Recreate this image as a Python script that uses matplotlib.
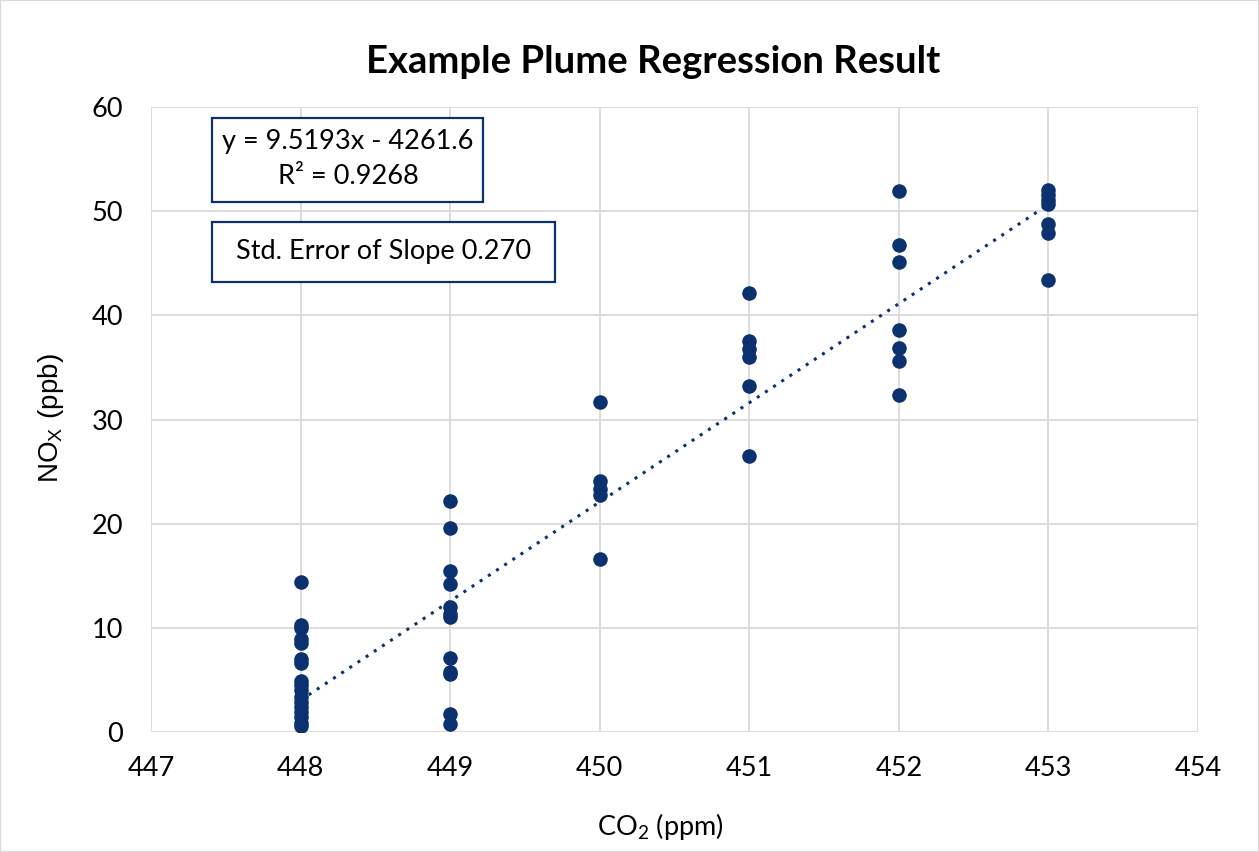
import matplotlib
matplotlib.use("Agg")
import matplotlib.pyplot as plt
import numpy as np

plt.rcParams['font.family'] = ['Lato', 'DejaVu Sans']
plt.rcParams['mathtext.fontset'] = 'custom'
plt.rcParams['mathtext.rm'] = 'Lato'
plt.rcParams['mathtext.sf'] = 'Liberation Sans'

# Data
co2_448 = [14.4, 10.3, 10.0, 8.9, 8.5, 7.0, 6.6, 4.9, 4.5, 4.0, 3.4, 2.9, 2.4, 1.9, 1.4, 0.9, 0.6]
co2_449 = [22.2, 19.6, 15.5, 14.2, 12.0, 11.3, 11.0, 7.1, 5.8, 5.6, 1.7, 0.8]
co2_450 = [31.7, 24.1, 23.3, 22.8, 16.6]
co2_451 = [42.1, 37.5, 36.8, 36.0, 33.2, 26.5]
co2_452 = [51.9, 46.8, 45.1, 38.6, 36.9, 35.6, 32.4]
co2_453 = [52.0, 51.6, 51.1, 50.7, 48.8, 47.9, 43.4]
co2_levels = [448, 449, 450, 451, 452, 453]
slope = 9.5193
intercept = -4261.6
r2 = 0.9268
se_slope = 0.270

groups = [co2_448, co2_449, co2_450, co2_451, co2_452, co2_453]
x = np.concatenate([[c] * len(g) for c, g in zip(co2_levels, groups)])
y = np.concatenate(groups)

W, H = 1259, 852
navy = '#0b326e'
fig = plt.figure(figsize=(W/100, H/100), dpi=100)
ax = fig.add_axes([151/W, 1 - 732/H, (1198-151)/W, (732-107)/H])

ax.scatter(x, y, s=110, color=navy, zorder=3, linewidths=0)
xl = np.array([min(co2_levels), max(co2_levels)])
ax.plot(xl, slope * xl + intercept, linestyle=(0, (1, 2.2)), color=navy, lw=2.2, zorder=2)

ax.set_xlim(447, 454)
ax.set_ylim(0, 60)
ax.set_xticks(range(447, 455))
ax.set_yticks(range(0, 61, 10))
ax.grid(True, color='#d9d9d9', lw=1.3, zorder=0)
ax.set_axisbelow(True)
for s in ax.spines.values():
    s.set_visible(False)
ax.tick_params(length=0, labelsize=19.5, colors='#000000')
ax.tick_params(axis='y', pad=20)
ax.tick_params(axis='x', pad=17)

def px(xp, yp):
    return xp / W, 1 - yp / H

fig.text(*px(653, 62), 'Example Plume Regression Result', fontsize=27.5, fontweight='bold',
         ha='center', va='center')
fig.text(*px(660, 826), 'CO$_2$ (ppm)', fontsize=19.5, ha='center', va='center')
fig.text(*px(51, 418), r'$\mathsf{NO_X\ (ppb)}$', fontsize=20, ha='center', va='center',
         rotation=90)

# annotation boxes
def box(x0, y0, x1, y1):
    fig.patches.append(plt.Rectangle(px(x0, y1), (x1 - x0)/W, (y1 - y0)/H,
                                     transform=fig.transFigure, fc='white', ec=navy, lw=1.6,
                                     zorder=5))

box(212, 118, 483, 202)
box(212, 222, 555, 282)
fig.text(*px(348, 159), f'y = {slope}x - {abs(intercept)}\nR² = {r2}', fontsize=19.5,
         ha='center', va='center', linespacing=1.45, zorder=6)
fig.text(*px(384, 251), f'Std. Error of Slope {se_slope:.3f}', fontsize=19.5,
         ha='center', va='center', zorder=6)

fig.patches.append(plt.Rectangle((0, 0), 1, 1, transform=fig.transFigure, fill=False,
                                 ec='#d9d9d9', lw=1.5))
fig.savefig('out.png', dpi=100)
